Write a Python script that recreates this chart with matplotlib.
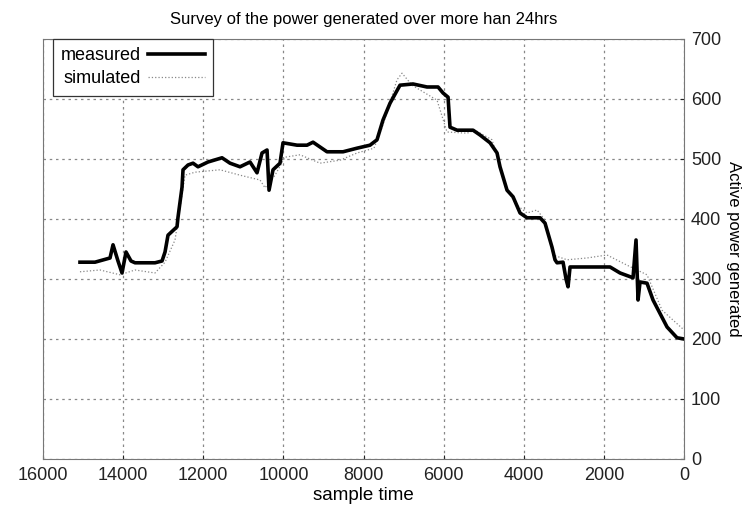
import numpy as np
import matplotlib
matplotlib.use("Agg")
import matplotlib.pyplot as plt

# sample index and measured active power
meas_t = [15077, 14702, 14327, 14252, 14128, 14028, 13928, 13803, 13703, 13204,
          13029, 12954, 12880, 12655, 12630, 12530, 12505, 12380, 12255, 12131,
          11881, 11532, 11332, 11082, 10833, 10658, 10533, 10408, 10358, 10259,
          10084, 10009, 9659, 9410, 9260, 8911, 8511, 8162, 7838, 7663,
          7513, 7338, 7089, 6764, 6415, 6140, 6015, 5890, 5841, 5666,
          5266, 5092, 4842, 4667, 4593, 4418, 4268, 4093, 3919, 3594,
          3469, 3295, 3220, 3170, 3020, 2945, 2895, 2845, 2421, 1847,
          1597, 1273, 1198, 1148, 1098, 924, 774, 424, 175, 0]
meas_p = [328, 328, 335, 357, 330, 310, 345, 330, 327, 327,
          330, 345, 373, 387, 403, 453, 482, 490, 493, 487,
          495, 502, 493, 487, 495, 477, 510, 515, 448, 482,
          493, 527, 523, 523, 528, 512, 512, 518, 523, 532,
          565, 593, 623, 625, 620, 620, 610, 603, 553, 548,
          548, 540, 527, 510, 487, 448, 437, 410, 402, 402,
          393, 353, 332, 327, 328, 300, 287, 320, 320, 320,
          310, 302, 365, 265, 295, 293, 265, 220, 202, 200]

# simulated active power
sim_t = [15077, 14578, 14078, 13703, 13204, 12954, 12705, 12455, 12206, 11582,
         11082, 10583, 10458, 10208, 9959, 9585, 9086, 8587, 8162, 7738,
         7538, 7164, 7039, 6789, 6165, 5916, 5416, 5217, 4792, 4418,
         4168, 3919, 3669, 3469, 3270, 2920, 2421, 1922, 1423, 924,
         549, 0]
sim_p = [312, 315, 307, 315, 310, 328, 365, 473, 478, 482,
         473, 465, 452, 473, 503, 507, 493, 498, 510, 518,
         552, 632, 643, 623, 598, 545, 543, 548, 532, 448,
         423, 410, 415, 398, 340, 332, 335, 340, 323, 307,
         248, 215]

plt.rcParams['font.family'] = ['Liberation Sans', 'DejaVu Sans']

fig = plt.figure(figsize=(7.53, 5.13), dpi=100)
ax = fig.add_axes([0.0571, 0.1053, 0.8513, 0.8187])

ax.plot(meas_t, meas_p, color='black', lw=2.6, label='measured', zorder=3)
ax.plot(sim_t, sim_p, color='#888888', lw=0.9, linestyle=':', label='simulated', zorder=2)

# mirrored layout: time axis runs right to left, values on the right side
ax.set_xlim(16000, 0)
ax.set_ylim(0, 700)
ax.set_xticks(np.arange(0, 16001, 2000))
ax.set_yticks(np.arange(0, 701, 100))
ax.yaxis.tick_right()
ax.yaxis.set_label_position('right')
ax.tick_params(direction='in', length=3, labelsize=13, colors='#222222')
ax.tick_params(axis='y', pad=5)
ax.tick_params(axis='x', pad=6)
ax.grid(True, linestyle=(0, (2, 3)), color='#888888', lw=0.9)
for s in ax.spines.values():
    s.set_color('#777777')

ax.set_xlabel('sample time', fontsize=13.5, labelpad=2)
ax.set_ylabel('Active power generated', fontsize=12, rotation=270, labelpad=14)
ax.set_title('Survey of the power generated over more han 24hrs', fontsize=12, pad=11)

leg = ax.legend(loc='upper left', bbox_to_anchor=(10 / 641, 1.0), markerfirst=False,
                fontsize=13, fancybox=False, edgecolor='#333333', framealpha=1,
                borderaxespad=0.0, handlelength=3.2, handletextpad=0.35,
                labelspacing=0.35, borderpad=0.45)
leg.get_frame().set_linewidth(0.9)

fig.savefig('out.png', dpi=100)
